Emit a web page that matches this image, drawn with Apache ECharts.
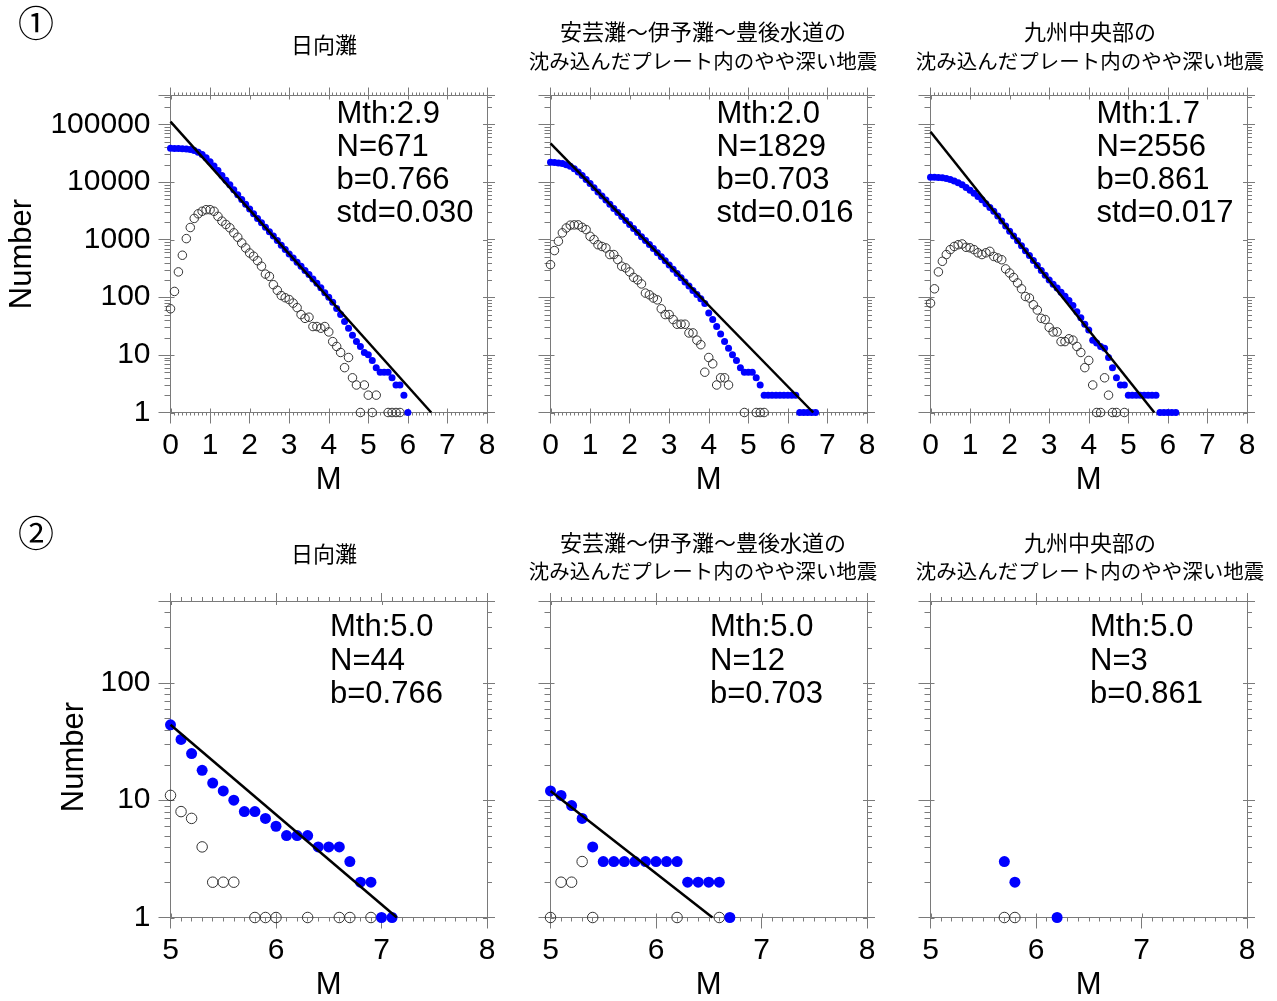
<!DOCTYPE html>
<html>
<head>
<meta charset="utf-8">
<script src="https://cdn.jsdelivr.net/npm/echarts@6/dist/echarts.min.js"></script>
<style>
  html, body { margin: 0; padding: 0; background: #ffffff; }
  #chart { width: 1277px; height: 1001px; }
</style>
</head>
<body>
<div id="chart"></div>
<script>
// Magnitude bins (0.1 steps) for the full catalogue and for the M5+ subset
const magsTop = [0.0,0.1,0.2,0.3,0.4,0.5,0.6,0.7,0.8,0.9,1.0,1.1,1.2,1.3,1.4,1.5,1.6,1.7,1.8,1.9,
  2.0,2.1,2.2,2.3,2.4,2.5,2.6,2.7,2.8,2.9,3.0,3.1,3.2,3.3,3.4,3.5,3.6,3.7,3.8,3.9,
  4.0,4.1,4.2,4.3,4.4,4.5,4.6,4.7,4.8,4.9,5.0,5.1,5.2,5.3,5.4,5.5,5.6,5.7,5.8,5.9,
  6.0,6.1,6.2,6.3,6.4,6.5,6.6,6.7];
const magsBottom = [5.0,5.1,5.2,5.3,5.4,5.5,5.6,5.7,5.8,5.9,6.0,6.1,6.2,6.3,6.4,6.5,6.6,6.7,6.8,6.9,7.0,7.1];

// 日向灘 : cumulative counts (N >= M) and counts per 0.1 bin
const hyugaCum = [38300,38200,38100,37800,37300,36400,35000,32800,30000,26300,
  22500,19000,15800,13000,10700,8900,7300,6000,4950,4100,
  3380,2800,2330,1950,1640,1370,1150,960,800,671,
  565,478,405,345,292,248,208,175,146,120,
  100,82,64,50,38,29,22,17,14,11,
  10,8,6,5,5,5,4,3,3,2,
  1];
const hyugaNon = [63,126,275,535,1040,1620,2330,2800,3100,3300,
  3300,3100,2530,2090,1830,1600,1310,1100,875,716,
  585,515,430,345,252,230,165,132,107,98,
  91,79,66,50,43,45,31,31,29,31,
  25,17,14,11,6,9,4,3,1,3,
  2,1,2,null,null,1,1,1,1,null,
  null];

// 安芸灘～伊予灘～豊後水道
const akiCum = [22000,21800,21400,20800,19900,18700,16900,14900,13000,11000,
  9400,7900,6700,5700,4850,4100,3480,2960,2520,2150,
  1829,1560,1330,1120,960,820,700,590,505,430,
  362,305,258,218,184,156,131,111,94,78,
  53,41,31,23,17,13,10,8,6,5,
  5,5,4,3,2,2,2,2,2,2,
  2,2,2,1,1,1,1,1];
const akiNon = [367,645,935,1310,1590,1780,1800,1800,1630,1490,
  1140,1000,815,760,716,550,550,450,345,323,
  275,221,200,170,118,110,97,90,63,50,
  50,41,34,34,34,24,24,18,15,5,
  9,7,3,4,4,3,null,null,null,1,
  null,null,1,1,1,null,null,null,null,null,
  null,null,null,null,null,null,null,null];

// 九州中央部
const kyushuCum = [12100,12100,12000,11800,11500,11000,10400,9700,8900,8000,
  7200,6400,5600,4900,4200,3600,3110,2556,2093,1717,
  1400,1150,950,780,640,530,435,355,292,240,
  200,168,145,122,104,88,72,56,44,34,
  27,18,16,14,13,9,6,4,3,3,
  2,2,2,2,2,2,2,2,1,1,
  1,1,1];
const kyushuNon = [79,140,275,420,550,670,760,815,840,735,
  720,670,590,550,590,625,510,480,447,310,
  263,220,177,140,103,97,74,60,43,41,
  30,25,25,17,17,19,18,14,11,6,
  8,3,1,1,4,2,1,1,null,1,
  null,null,null,null,null,null,null,null,null,null,
  null,null,null];

// M >= 5.0 subsets
const hyugaCum5 = [44,33,25,18,14,12,10,8,8,7,6,5,5,5,4,4,4,3,2,2,1,1];
const hyugaNon5 = [11,8,7,4,2,2,2,null,1,1,1,null,null,1,null,null,1,1,null,1,null,null];
const akiCum5 = [12,11,9,7,4,3,3,3,3,3,3,3,3,2,2,2,2,1,null,null,null,null];
const akiNon5 = [1,2,2,3,1,null,null,null,null,null,null,null,1,null,null,null,1,null,null,null,null,null];
const kyushuCum5 = [null,null,null,null,null,null,null,3,2,null,null,null,1,null,null,null,null,null,null,null,null,null];
const kyushuNon5 = [null,null,null,null,null,null,null,1,1,null,null,null,null,null,null,null,null,null,null,null,null,null];

// Axis tick labels
const magTicksTop = [0,1,2,3,4,5,6,7,8];
const magTicksBottom = [5,6,7,8];
const countTicksTop = [1,10,100,1000,10000,100000];
const countTicksBottom = [1,10,100];

const titleHyuga = ['日向灘'];
const titleAki = ['安芸灘～伊予灘～豊後水道の', '沈み込んだプレート内のやや深い地震'];
const titleKyushu = ['九州中央部の', '沈み込んだプレート内のやや深い地震'];

const LATIN = '"Liberation Sans", Arial, Helvetica, sans-serif';
const CJK = '"Noto Sans CJK JP", "Noto Sans CJK SC", sans-serif';
const AXIS = '#7a7a7a';
const BLUE = '#0000ff';

const rows = [
  { top: 95.5, height: 317, xMin: 0, xMax: 8, yMax: Math.pow(10, 5.5), mags: magsTop,
    xTicks: magTicksTop, yTicks: countTicksTop, dot: 7, ring: 8.5, minorX: 3,
    titleY: [32, 61], titleSingleY: 45, markY: 23, mark: '①', statY: 114, statGap: 33, statX: 336.5,
    nameY: 480, numberX: 22, numberY: 254 },
  { top: 601, height: 316.5, xMin: 5, xMax: 8, yMax: 500, mags: magsBottom,
    xTicks: magTicksBottom, yTicks: countTicksBottom, dot: 11, ring: 10.5, minorX: 4,
    titleY: [543, 571.5], titleSingleY: 554, markY: 533, mark: '②', statY: 627.5, statGap: 33.5, statX: 330,
    nameY: 985, numberX: 74, numberY: 757 }
];
const colLeft = [170.5, 550.5, 930.5];
const colTitleX = [324, 703, 1090];
const colWidth = 316.5;

const panels = [
  { row: 0, col: 0, title: titleHyuga, cum: hyugaCum, non: hyugaNon, mth: 2.9, n: 671, b: 0.766, std: '0.030', fit: true },
  { row: 0, col: 1, title: titleAki, cum: akiCum, non: akiNon, mth: 2.0, n: 1829, b: 0.703, std: '0.016', fit: true },
  { row: 0, col: 2, title: titleKyushu, cum: kyushuCum, non: kyushuNon, mth: 1.7, n: 2556, b: 0.861, std: '0.017', fit: true },
  { row: 1, col: 0, title: titleHyuga, cum: hyugaCum5, non: hyugaNon5, mth: 5.0, n: 44, b: 0.766, std: null, fit: true },
  { row: 1, col: 1, title: titleAki, cum: akiCum5, non: akiNon5, mth: 5.0, n: 12, b: 0.703, std: null, fit: true },
  { row: 1, col: 2, title: titleKyushu, cum: kyushuCum5, non: kyushuNon5, mth: 5.0, n: 3, b: 0.861, std: null, fit: false }
];

function pairs(mags, values) {
  const out = [];
  values.forEach((v, i) => { if (v !== null && v !== undefined) out.push([mags[i], v]); });
  return out;
}

function tickItems(row) {
  // [x, y, kind]: 0 = log minor tick, 1 = decade stub inside frame, 2 = magnitude stub inside frame
  const items = [];
  row.yTicks.forEach(d => {
    items.push([row.xMin, d, 1]);
    for (let k = 2; k <= 9; k++) {
      if (d * k < row.yMax) items.push([row.xMin, d * k, 0]);
    }
  });
  row.xTicks.forEach(m => items.push([m, 1, 2]));
  return items;
}

function tickRenderer(row) {
  return function (params, api) {
    const kind = api.value(2);
    const x = api.value(0), y = api.value(1);
    const segs = [];
    if (kind === 0 || kind === 1) {
      const pl = api.coord([row.xMin, y]);
      const pr = api.coord([row.xMax, y]);
      const yy = Math.round(pl[1]) + 0.5;
      if (kind === 0) {
        segs.push([pl[0] - 6, yy, pl[0], yy], [pr[0], yy, pr[0] + 5, yy]);
      } else {
        segs.push([pl[0], yy, pl[0] + 4, yy], [pr[0] - 4, yy, pr[0], yy]);
      }
    } else {
      const pb = api.coord([x, 1]);
      const pt = api.coord([x, row.yMax]);
      const xx = Math.round(pb[0]) + 0.5;
      segs.push([xx, pb[1], xx, pb[1] - 4], [xx, pt[1], xx, pt[1] + 4]);
    }
    return {
      type: 'group',
      children: segs.map(s => ({
        type: 'line', silent: true,
        shape: { x1: s[0], y1: s[1], x2: s[2], y2: s[3] },
        style: { stroke: AXIS, lineWidth: 1 }
      }))
    };
  };
}

function isDecade(v) {
  const l = Math.log10(v);
  return Math.abs(l - Math.round(l)) < 1e-6;
}

const option = {
  animation: false,
  backgroundColor: '#ffffff',
  grid: [], xAxis: [], yAxis: [], series: [],
  graphic: { elements: [] }
};
const g = option.graphic.elements;

function addText(x, y, str, size, family, align, rotation) {
  g.push({
    type: 'text', x: x, y: y, rotation: rotation || 0, silent: true,
    style: { text: str, fontSize: size, fontFamily: family, fill: '#000000',
      align: align || 'center', verticalAlign: 'middle' }
  });
}

panels.forEach((p, gi) => {
  const row = rows[p.row];
  const left = colLeft[p.col];
  option.grid.push({ left: left, top: row.top, width: colWidth, height: row.height });

  const lineStyle = { color: AXIS, width: 1 };
  ['bottom', 'top'].forEach(pos => {
    const bottom = pos === 'bottom';
    option.xAxis.push({
      type: 'value', gridIndex: gi, position: pos, min: row.xMin, max: row.xMax, interval: 1,
      axisLine: { onZero: false, lineStyle: lineStyle },
      axisTick: { show: true, length: bottom ? 11 : 8, lineStyle: lineStyle },
      minorTick: { show: true, splitNumber: 10, length: row.minorX, lineStyle: lineStyle },
      splitLine: { show: false },
      axisLabel: { show: bottom, margin: 18, fontSize: 30, color: '#000', fontFamily: LATIN },
      silent: true
    });
  });
  ['left', 'right'].forEach(pos => {
    const isLeft = pos === 'left';
    option.yAxis.push({
      type: 'log', logBase: 10, gridIndex: gi, position: pos, min: 1, max: row.yMax,
      axisLine: { onZero: false, lineStyle: lineStyle },
      axisTick: { show: true, length: isLeft ? 12 : 8, lineStyle: lineStyle },
      minorTick: { show: false },
      splitLine: { show: false },
      axisLabel: { show: isLeft && p.col === 0, margin: 20, fontSize: 30, color: '#000', fontFamily: LATIN,
        formatter: v => (isDecade(v) ? String(Math.round(v)) : '') },
      silent: true
    });
  });

  const xi = 2 * gi, yi = 2 * gi;

  option.series.push({
    type: 'custom', coordinateSystem: 'cartesian2d', xAxisIndex: xi, yAxisIndex: yi,
    silent: true, clip: false, z: 1, encode: { x: 0, y: 1 },
    data: tickItems(row), renderItem: tickRenderer(row)
  });

  option.series.push({
    type: 'scatter', xAxisIndex: xi, yAxisIndex: yi, silent: true, z: 2,
    symbol: 'circle', symbolSize: row.ring,
    itemStyle: { color: 'rgba(255,255,255,0)', borderColor: '#333333', borderWidth: 1, opacity: 1 },
    data: pairs(row.mags, p.non)
  });

  option.series.push({
    type: 'scatter', xAxisIndex: xi, yAxisIndex: yi, silent: true, z: 3,
    symbol: 'circle', symbolSize: row.dot,
    itemStyle: { color: BLUE, borderWidth: 0, opacity: 1 },
    data: pairs(row.mags, p.cum)
  });

  if (p.fit) {
    // Gutenberg-Richter fit: log10 N = log10(n) - b (M - Mth), drawn down to N = 1
    const mEnd = p.mth + Math.log10(p.n) / p.b;
    const nStart = p.n * Math.pow(10, p.b * (p.mth - row.xMin));
    option.series.push({
      type: 'line', xAxisIndex: xi, yAxisIndex: yi, silent: true, z: 4,
      showSymbol: false, symbol: 'none',
      lineStyle: { color: '#000000', width: 2.5 },
      data: [[row.xMin, nStart], [mEnd, 1]]
    });
  }

  // Titles
  const tx = colTitleX[p.col];
  if (p.title.length === 1) {
    addText(tx, row.titleSingleY, p.title[0], 22, CJK);
  } else {
    addText(tx, row.titleY[0], p.title[0], 22, CJK);
    addText(tx, row.titleY[1], p.title[1], 20.5, CJK);
  }

  // Statistics block
  const stats = ['Mth:' + p.mth.toFixed(1), 'N=' + p.n, 'b=' + p.b.toFixed(3)];
  if (p.std) stats.push('std=' + p.std);
  const sx = row.statX + (left - colLeft[0]);
  stats.forEach((s, k) => addText(sx, row.statY + k * row.statGap, s, 31, LATIN, 'left'));

  // Axis names
  addText(left + colWidth / 2, row.nameY, 'M', 31, LATIN);
  if (p.col === 0) addText(row.numberX, row.numberY, 'Number', 31, LATIN, 'center', Math.PI / 2);
});

rows.forEach(row => addText(36, row.markY, row.mark, 36, CJK));

const chart = echarts.init(document.getElementById('chart'), null, { renderer: 'canvas' });
chart.setOption(option);
</script>
</body>
</html>
